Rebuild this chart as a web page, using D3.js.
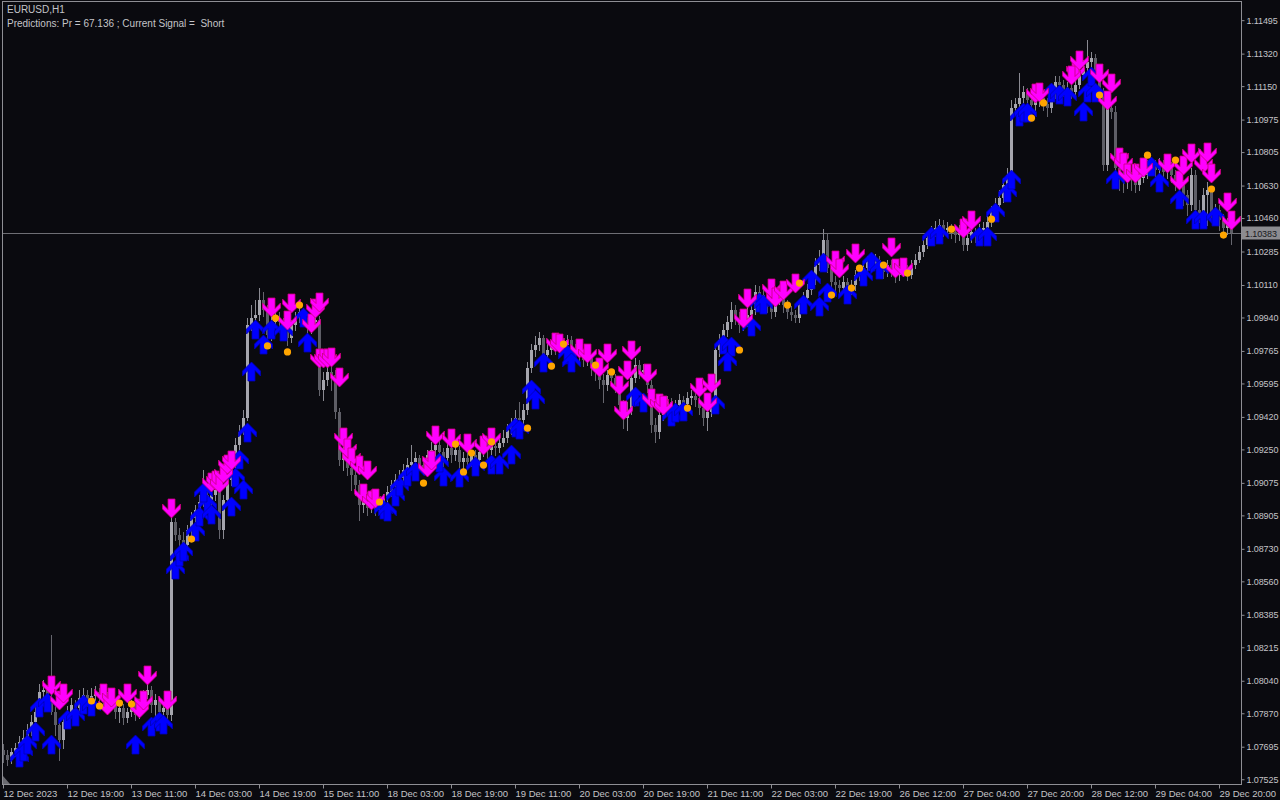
<!DOCTYPE html>
<html><head><meta charset="utf-8">
<script src="https://cdn.jsdelivr.net/npm/d3@7"></script>
<style>html,body{margin:0;padding:0;background:#0a0a0f;overflow:hidden}</style>
</head><body><svg id="c" width="1280" height="800"></svg>
<script>
// ---------------- DATA ----------------
const symbolTitle = "EURUSD,H1";
const infoLine = "Predictions: Pr = 67.136 ; Current Signal =  Short";
const firstOpen = 1.07678;
const close = [
1.07652,1.07625,1.07668,1.07688,1.07720,1.07740,1.07782,1.07824,1.07877,1.07981,
1.07991,1.07939,1.07877,1.07808,1.07730,1.07824,1.07877,1.07913,1.07897,1.07949,
1.07965,1.07939,1.07960,1.07981,1.07949,1.07929,1.07949,1.07913,1.07877,1.07897,
1.07845,1.07877,1.07913,1.07861,1.07913,1.07965,1.07991,1.07913,1.07939,1.07877,
1.07897,1.07861,1.08870,1.08802,1.08776,1.08750,1.08828,1.08891,1.08933,1.08975,
1.09011,1.08985,1.09011,1.09037,1.08828,1.08985,1.09090,1.09168,1.09273,1.09341,
1.09414,1.09900,1.09937,1.09953,1.10031,1.09979,1.09848,1.09916,1.09937,1.09916,
1.09874,1.09832,1.09900,1.09937,1.09969,1.09937,1.09884,1.09916,1.09926,1.09560,
1.09613,1.09655,1.09639,1.09446,1.09194,1.09257,1.09152,1.09116,1.09064,1.08959,
1.09011,1.08943,1.08975,1.08933,1.08959,1.08995,1.09027,1.09064,1.09090,1.09100,
1.09142,1.09168,1.09184,1.09205,1.09168,1.09152,1.09221,1.09247,1.09273,1.09236,
1.09205,1.09257,1.09221,1.09247,1.09184,1.09205,1.09184,1.09221,1.09194,1.09236,
1.09273,1.09247,1.09268,1.09257,1.09283,1.09309,1.09351,1.09377,1.09414,1.09403,
1.09456,1.09675,1.09770,1.09796,1.09832,1.09744,1.09770,1.09796,1.09780,1.09812,
1.09796,1.09822,1.09780,1.09760,1.09744,1.09717,1.09728,1.09675,1.09655,1.09613,
1.09587,1.09639,1.09623,1.09587,1.09482,1.09414,1.09456,1.09623,1.09691,1.09655,
1.09665,1.09587,1.09377,1.09341,1.09430,1.09456,1.09498,1.09466,1.09482,1.09508,
1.09487,1.09518,1.09529,1.09508,1.09466,1.09414,1.09446,1.09482,1.09770,1.09822,
1.09874,1.09916,1.09979,1.09937,1.09900,1.09916,1.09953,1.09979,1.10073,1.10057,
1.10031,1.10005,1.09969,1.10031,1.10057,1.10005,1.09969,1.09953,1.09937,1.10005,
1.10042,1.10083,1.10136,1.10214,1.10251,1.10345,1.10198,1.10126,1.10110,1.10094,
1.10126,1.10083,1.10110,1.10162,1.10178,1.10198,1.10230,1.10214,1.10240,1.10198,
1.10178,1.10214,1.10188,1.10162,1.10178,1.10188,1.10162,1.10214,1.10240,1.10282,
1.10319,1.10355,1.10387,1.10407,1.10423,1.10397,1.10407,1.10387,1.10371,1.10397,
1.10319,1.10355,1.10387,1.10366,1.10397,1.10407,1.10439,1.10491,1.10528,1.10564,
1.10632,1.10685,1.11035,1.11056,1.11087,1.11119,1.11077,1.11051,1.11077,1.11087,
1.11056,1.11035,1.11103,1.11171,1.11155,1.11129,1.11140,1.11119,1.11155,1.11208,
1.11244,1.11276,1.11297,1.11234,1.11119,1.10737,1.11035,1.11014,1.10721,1.10685,
1.10648,1.10669,1.10659,1.10632,1.10669,1.10685,1.10722,1.10737,1.10711,1.10737,
1.10701,1.10722,1.10685,1.10659,1.10632,1.10580,1.10528,1.10685,1.10502,1.10476,
1.10580,1.10606,1.10476,1.10502,1.10449,1.10407,1.10423,1.10383];
const high = [
1.07709,1.07678,1.07688,1.07714,1.07751,1.07782,1.07813,1.07861,1.07913,1.08023,
1.08044,1.08018,1.08279,1.07913,1.07844,1.07856,1.07908,1.07949,1.07939,1.07991,
1.08002,1.07991,1.08002,1.08012,1.08002,1.07970,1.07981,1.07970,1.07939,1.07918,
1.07918,1.07897,1.07939,1.07929,1.07939,1.07991,1.08033,1.08012,1.07970,1.07960,
1.07929,1.07918,1.08907,1.08891,1.08838,1.08818,1.08854,1.08922,1.08959,1.09011,
1.09142,1.09048,1.09037,1.09080,1.09058,1.09011,1.09116,1.09194,1.09309,1.09377,
1.09456,1.09937,1.10005,1.10031,1.10094,1.10073,1.10005,1.09953,1.09979,1.09969,
1.09937,1.09900,1.09926,1.09969,1.10031,1.09989,1.09958,1.09948,1.09969,1.09948,
1.09655,1.09691,1.09686,1.09665,1.09466,1.09289,1.09278,1.09194,1.09142,1.09090,
1.09037,1.09027,1.08995,1.08995,1.08985,1.09016,1.09058,1.09090,1.09121,1.09142,
1.09173,1.09205,1.09273,1.09236,1.09221,1.09194,1.09247,1.09289,1.09309,1.09299,
1.09257,1.09283,1.09273,1.09278,1.09268,1.09236,1.09236,1.09247,1.09247,1.09268,
1.09309,1.09299,1.09299,1.09299,1.09320,1.09351,1.09382,1.09414,1.09456,1.09498,
1.09487,1.09707,1.09801,1.09843,1.09864,1.09848,1.09801,1.09822,1.09822,1.09843,
1.09832,1.09848,1.09843,1.09801,1.09780,1.09770,1.09760,1.09749,1.09707,1.09686,
1.09644,1.09665,1.09665,1.09644,1.09602,1.09508,1.09498,1.09655,1.09728,1.09717,
1.09696,1.09686,1.09613,1.09414,1.09456,1.09487,1.09529,1.09518,1.09508,1.09539,
1.09529,1.09550,1.09560,1.09550,1.09529,1.09487,1.09477,1.09508,1.09796,1.09853,
1.09905,1.09948,1.10021,1.10005,1.09969,1.09948,1.10000,1.10031,1.10110,1.10105,
1.10083,1.10052,1.10031,1.10062,1.10094,1.10083,1.10031,1.10000,1.09979,1.10031,
1.10073,1.10115,1.10167,1.10251,1.10293,1.10402,1.10376,1.10230,1.10157,1.10136,
1.10157,1.10146,1.10136,1.10188,1.10209,1.10230,1.10261,1.10261,1.10272,1.10261,
1.10230,1.10240,1.10240,1.10214,1.10209,1.10219,1.10214,1.10240,1.10272,1.10314,
1.10345,1.10387,1.10418,1.10444,1.10454,1.10449,1.10439,1.10428,1.10412,1.10423,
1.10418,1.10381,1.10418,1.10407,1.10428,1.10439,1.10470,1.10523,1.10564,1.10606,
1.10669,1.10722,1.11077,1.11087,1.11218,1.11150,1.11140,1.11103,1.11108,1.11119,
1.11108,1.11087,1.11129,1.11203,1.11203,1.11182,1.11171,1.11161,1.11182,1.11244,
1.11286,1.11391,1.11328,1.11318,1.11255,1.11140,1.11066,1.11056,1.11046,1.10753,
1.10711,1.10701,1.10701,1.10680,1.10701,1.10722,1.10763,1.10774,1.10763,1.10774,
1.10763,1.10753,1.10753,1.10711,1.10690,1.10659,1.10606,1.10722,1.10711,1.10554,
1.10617,1.10648,1.10627,1.10533,1.10528,1.10480,1.10459,1.10449];
const low = [
1.07615,1.07599,1.07609,1.07647,1.07668,1.07699,1.07720,1.07756,1.07803,1.07861,
1.07949,1.07908,1.07866,1.07756,1.07625,1.07688,1.07792,1.07856,1.07866,1.07877,
1.07929,1.07908,1.07918,1.07939,1.07923,1.07897,1.07908,1.07887,1.07845,1.07824,
1.07813,1.07824,1.07856,1.07834,1.07845,1.07897,1.07949,1.07877,1.07856,1.07834,
1.07824,1.07834,1.07834,1.08776,1.08724,1.08714,1.08724,1.08802,1.08870,1.08907,
1.08954,1.08943,1.08959,1.08985,1.08786,1.08786,1.08959,1.09064,1.09142,1.09247,
1.09330,1.09403,1.09874,1.09916,1.09926,1.09948,1.09822,1.09822,1.09895,1.09884,
1.09848,1.09796,1.09812,1.09874,1.09916,1.09900,1.09853,1.09858,1.09895,1.09534,
1.09508,1.09587,1.09560,1.09414,1.09168,1.09142,1.09116,1.09037,1.09011,1.08880,
1.08923,1.08907,1.08923,1.08907,1.08912,1.08943,1.08975,1.09006,1.09037,1.09058,
1.09080,1.09121,1.09142,1.09152,1.09142,1.09121,1.09132,1.09194,1.09215,1.09205,
1.09163,1.09184,1.09184,1.09194,1.09152,1.09142,1.09152,1.09163,1.09163,1.09173,
1.09215,1.09205,1.09226,1.09221,1.09236,1.09268,1.09289,1.09330,1.09361,1.09372,
1.09382,1.09435,1.09655,1.09739,1.09770,1.09707,1.09717,1.09749,1.09749,1.09760,
1.09770,1.09770,1.09749,1.09717,1.09707,1.09686,1.09691,1.09639,1.09613,1.09571,
1.09498,1.09560,1.09587,1.09550,1.09446,1.09361,1.09351,1.09435,1.09602,1.09623,
1.09623,1.09550,1.09341,1.09289,1.09309,1.09403,1.09446,1.09435,1.09446,1.09466,
1.09456,1.09466,1.09487,1.09477,1.09435,1.09377,1.09351,1.09425,1.09456,1.09739,
1.09791,1.09843,1.09884,1.09905,1.09864,1.09874,1.09895,1.09926,1.09958,1.10021,
1.10000,1.09969,1.09937,1.09948,1.10010,1.09969,1.09937,1.09926,1.09916,1.09916,
1.09979,1.10021,1.10062,1.10115,1.10188,1.10230,1.10178,1.10094,1.10073,1.10062,
1.10073,1.10052,1.10062,1.10083,1.10136,1.10157,1.10178,1.10188,1.10198,1.10167,
1.10146,1.10157,1.10157,1.10126,1.10136,1.10157,1.10136,1.10146,1.10198,1.10230,
1.10261,1.10303,1.10335,1.10366,1.10387,1.10366,1.10376,1.10355,1.10335,1.10345,
1.10293,1.10293,1.10335,1.10335,1.10345,1.10376,1.10387,1.10418,1.10470,1.10502,
1.10544,1.10606,1.10669,1.11004,1.11025,1.11056,1.11046,1.11014,1.11025,1.11046,
1.11025,1.10993,1.11014,1.11087,1.11119,1.11098,1.11098,1.11087,1.11098,1.11140,
1.11192,1.11224,1.11234,1.11203,1.11087,1.10711,1.10711,1.10983,1.10701,1.10606,
1.10596,1.10617,1.10606,1.10596,1.10606,1.10648,1.10669,1.10701,1.10680,1.10690,
1.10669,1.10669,1.10648,1.10606,1.10575,1.10528,1.10476,1.10502,1.10460,1.10439,
1.10449,1.10423,1.10439,1.10439,1.10397,1.10366,1.10376,1.10324];

// signal arrows: [bar index, arrow tip price]
const upArrows = [[4,1.07688],[5,1.07720],[6,1.07756],[8,1.07824],[9,1.07949],[11,1.07975],[12,1.07756],[16,1.07887],[18,1.07903],[20,1.07965],[22,1.07955],[33,1.07756],[37,1.07850],[39,1.07877],[40,1.07861],
[43,1.08671],[44,1.08739],[45,1.08766],[48,1.08870],[49,1.08948],[51,1.09011],[52,1.08959],[50,1.09074],[57,1.09001],[58,1.09152],[59,1.09247],[60,1.09090],[61,1.09387],[62,1.09707],[63,1.09926],[65,1.09848],[67,1.09926],[70,1.09916],[75,1.09989],[76,1.09858],
[95,1.08985],[96,1.08975],[98,1.09053],[99,1.09105],[101,1.09157],[103,1.09184],[110,1.09157],[109,1.09231],[114,1.09152],[118,1.09210],[122,1.09220],[124,1.09220],[127,1.09273],[128,1.09414],[129,1.09403],
[132,1.09613],[133,1.09560],[135,1.09754],[141,1.09796],[142,1.09754],[158,1.09576],[160,1.09545],[167,1.09472],[168,1.09493],[170,1.09498],[178,1.09534],[180,1.09848],[182,1.09838],[181,1.09760],[187,1.09942],[189,1.10068],[190,1.10057],
[200,1.10057],[202,1.10188],[204,1.10047],[205,1.10277],[206,1.10120],[211,1.10110],[215,1.10204],[217,1.10282],[219,1.10240],[232,1.10413],[234,1.10423],[244,1.10413],[246,1.10413],[248,1.10538],[251,1.10643],[252,1.10711],
[254,1.11041],[255,1.11062],[256,1.11062],[262,1.11166],[264,1.11155],[266,1.11145],[270,1.11066],[271,1.11166],[272,1.11249],[273,1.11166],[278,1.10711],[287,1.10779],[289,1.10695],[294,1.10606],[298,1.10502],[300,1.10502],[303,1.10518]];
const downArrows = [[12,1.07965],[14,1.07887],[15,1.07923],[25,1.07923],[26,1.07861],[27,1.07903],[31,1.07923],[34,1.07845],[35,1.07887],[36,1.08018],[41,1.07887],[42,1.08891],
[52,1.09027],[53,1.09037],[54,1.09022],[55,1.09074],[56,1.09121],[57,1.09142],[67,1.09942],[72,1.09963],[71,1.09874],[77,1.09858],[78,1.09937],[79,1.09968],[79,1.09675],[80,1.09675],[81,1.09675],[82,1.09681],
[84,1.09576],[85,1.09262],[86,1.09205],[87,1.09157],[89,1.09116],[91,1.09090],[90,1.08969],[92,1.08933],[93,1.08943],[106,1.09105],[108,1.09273],[107,1.09142],[112,1.09257],[116,1.09231],[120,1.09220],[122,1.09262],
[138,1.09760],[139,1.09754],[144,1.09728],[146,1.09702],[149,1.09629],[151,1.09702],[154,1.09534],[155,1.09403],[157,1.09717],[156,1.09613],[161,1.09597],[162,1.09466],[164,1.09440],[165,1.09430],
[174,1.09524],[177,1.09545],[176,1.09446],[186,1.09989],[185,1.09884],[192,1.10042],[193,1.09995],[195,1.10031],[198,1.10068],[208,1.10188],[209,1.10146],[213,1.10225],[222,1.10256],[223,1.10146],[225,1.10151],
[240,1.10355],[242,1.10397],[258,1.11062],[259,1.11066],[268,1.11182],[269,1.11234],[267,1.11155],[274,1.11166],[277,1.11114],[276,1.11025],[279,1.10727],[280,1.10701],[281,1.10643],[283,1.10643],[285,1.10675],
[291,1.10695],[294,1.10606],[295,1.10685],[297,1.10748],[300,1.10695],[301,1.10753],[302,1.10643],[306,1.10491],[307,1.10397]];
const dotIdx = [22,24,29,32,47,68,74,66,71,94,105,113,115,117,120,122,131,137,140,148,152,171,184,196,199,207,212,214,220,226,237,247,257,260,274,286,293,302,305];
const dotPrice = [1.07934,1.07908,1.07923,1.07918,1.08781,1.09937,1.10005,1.09791,1.09760,1.08975,1.09074,1.09278,1.09132,1.09231,1.09168,1.09289,1.09361,1.09686,1.09801,1.09691,1.09655,1.09466,1.09770,1.10005,1.10120,1.10057,1.10094,1.10198,1.10214,1.10172,1.10402,1.10454,1.10983,1.11062,1.11103,1.10789,1.10763,1.10612,1.10371];

const yTickLabels = ["1.11495","1.11320","1.11150","1.10975","1.10805","1.10630","1.10460","1.10285","1.10110","1.09940","1.09765","1.09595","1.09420","1.09250","1.09075","1.08905","1.08730","1.08560","1.08385","1.08215","1.08040","1.07870","1.07695","1.07525"];
const xTickIdx = [0,16,32,48,64,80,96,112,128,144,160,176,192,208,224,240,256,272,288,304];
const xTickLabels = ["12 Dec 2023","12 Dec 19:00","13 Dec 11:00","14 Dec 03:00","14 Dec 19:00","15 Dec 11:00","18 Dec 03:00","18 Dec 19:00","19 Dec 11:00","20 Dec 03:00","20 Dec 19:00","21 Dec 11:00","22 Dec 03:00","22 Dec 19:00","26 Dec 12:00","27 Dec 04:00","27 Dec 20:00","28 Dec 12:00","29 Dec 04:00","29 Dec 20:00"];
const lastPrice = 1.10383;
const priceMin = 1.07500, priceMax = 1.11590;

// ---------------- DRAW ----------------
const W = 1280, H = 800;
const plotL = 2, plotR = 1241, plotT = 1, plotB = 784;
const FONT = "'Liberation Sans', Arial, sans-serif";
const svg = d3.select('#c');
svg.append('rect').attr('width', W).attr('height', H).attr('fill', '#0a0a0f');

const n = close.length;
const x = d3.scaleBand().domain(d3.range(n)).range([0, n * 4]);
const cx = i => x(i) + 3.5;
const y = d3.scaleLinear().domain([priceMin, priceMax]).range([plotB, plotT + 1]);

const bars = close.map((c, i) => {
  const o = i === 0 ? firstOpen : close[i - 1];
  return {i, o, c, h: Math.max(high[i], o, c), l: Math.min(low[i], o, c)};
});

const plot = svg.append('g');
// current price line
const py = Math.round(y(lastPrice)) + 0.5;
plot.append('line').attr('x1', plotL).attr('x2', plotR).attr('y1', py).attr('y2', py)
  .attr('stroke', '#6e6e74').attr('stroke-width', 1);

// candles
const cg = plot.append('g').attr('shape-rendering', 'crispEdges');
cg.selectAll('line').data(bars).join('line')
  .attr('x1', d => cx(d.i)).attr('x2', d => cx(d.i))
  .attr('y1', d => Math.round(y(d.h))).attr('y2', d => Math.round(y(d.l)) + 1)
  .attr('stroke', d => d.c >= d.o ? '#8a8a92' : '#66666e').attr('stroke-width', 1);
cg.selectAll('rect').data(bars).join('rect')
  .attr('x', d => x(d.i) + 2).attr('width', 3)
  .attr('y', d => Math.round(y(Math.max(d.o, d.c))))
  .attr('height', d => Math.max(1, Math.round(y(Math.min(d.o, d.c))) - Math.round(y(Math.max(d.o, d.c)))))
  .attr('fill', d => d.c >= d.o ? '#a6a6ae' : '#5e5e66');

// arrows
const upPath = 'M0,0 L9,9 L9,14 L3.5,8.5 L3.5,19 L-3.5,19 L-3.5,8.5 L-9,14 L-9,9 Z';
const dnPath = 'M0,0 L9,-9 L9,-14 L3.5,-8.5 L3.5,-19 L-3.5,-19 L-3.5,-8.5 L-9,-14 L-9,-9 Z';
const ag = plot.append('g');
ag.selectAll('path.up').data(upArrows).join('path').attr('class', 'up')
  .attr('d', upPath)
  .attr('transform', d => `translate(${cx(d[0])},${Math.round(y(d[1]))})`)
  .attr('fill', '#0000ff').attr('stroke', '#0000b4').attr('stroke-width', 0.8);
ag.selectAll('path.dn').data(downArrows).join('path').attr('class', 'dn')
  .attr('d', dnPath)
  .attr('transform', d => `translate(${cx(d[0])},${Math.round(y(d[1]))})`)
  .attr('fill', '#ff00ff').attr('stroke', '#c8007a').attr('stroke-width', 0.8);

// orange dots
plot.append('g').selectAll('circle').data(dotIdx).join('circle')
  .attr('cx', (d) => cx(d)).attr('cy', (d, k) => y(dotPrice[k]))
  .attr('r', 3.6).attr('fill', '#ffa500');

// frame
svg.append('rect').attr('x', plotL + 0.5).attr('y', plotT + 0.5)
  .attr('width', plotR - plotL).attr('height', plotB - plotT)
  .attr('fill', 'none').attr('stroke', '#8e8e94').attr('stroke-width', 1);

// y axis
const yAxis = d3.axisRight(y).tickValues(yTickLabels.map(Number))
  .tickFormat((d, k) => yTickLabels[k]).tickSize(3).tickPadding(2);
const ya = svg.append('g').attr('transform', `translate(${plotR + 0.5},0)`).call(yAxis);
ya.select('.domain').remove();
ya.selectAll('.tick line').attr('stroke', '#8e8e94');
ya.selectAll('.tick text').attr('fill', '#c4c4c8').attr('font-family', FONT).attr('font-size', 9)
  .attr('letter-spacing', -0.1);

// current price label
svg.append('rect').attr('x', plotR + 1).attr('y', py - 7).attr('width', W - plotR - 1).attr('height', 13)
  .attr('fill', '#8c8c90');
svg.append('text').attr('x', plotR + 4).attr('y', py + 3.5).text(lastPrice.toFixed(5))
  .attr('fill', '#18181c').attr('font-family', FONT).attr('font-size', 9).attr('letter-spacing', -0.1);

// x axis
const xAxis = d3.axisBottom(d3.scaleLinear().domain([0, n]).range([0, n * 4]))
  .tickValues(xTickIdx.map(i => i + 0.75)).tickFormat((d, k) => xTickLabels[k])
  .tickSize(4).tickPadding(2);
const xa = svg.append('g').attr('transform', `translate(0,${plotB + 0.5})`).call(xAxis);
xa.select('.domain').remove();
xa.selectAll('.tick line').attr('stroke', '#8e8e94');
xa.selectAll('.tick text').attr('fill', '#c4c4c8').attr('font-family', FONT).attr('font-size', 9.5)
  .attr('text-anchor', 'start').attr('x', 0);

// little shift marker bottom-left
svg.append('path').attr('d', `M${plotL + 1},${plotB - 8} L${plotL + 1},${plotB} L${plotL + 8},${plotB} Z`).attr('fill', '#6a6a70');

// titles
svg.append('text').attr('x', 7).attr('y', 13).text(symbolTitle)
  .attr('fill', '#c4c4c8').attr('font-family', FONT).attr('font-size', 10);
svg.append('text').attr('x', 7).attr('y', 27).text(infoLine).style('white-space', 'pre')
  .attr('fill', '#c4c4c8').attr('font-family', FONT).attr('font-size', 10);
</script></body></html>
